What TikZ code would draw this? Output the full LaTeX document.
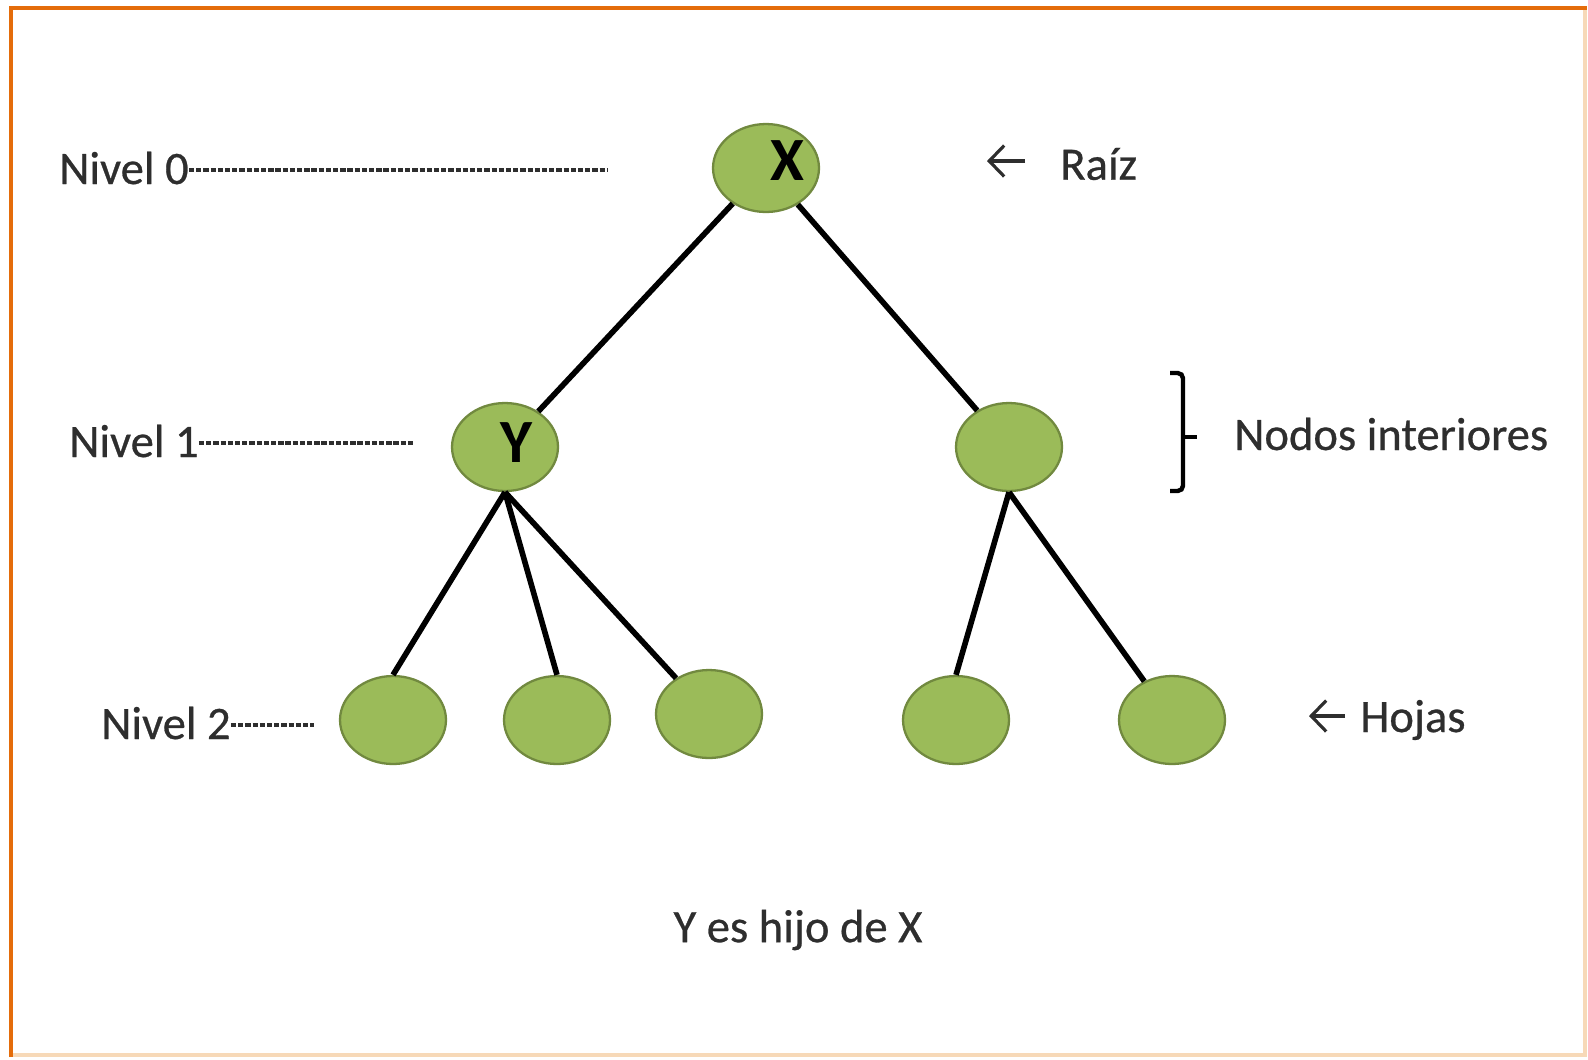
\documentclass[tikz,border=0pt]{standalone}
\usepackage{fontspec}
\setmainfont{Carlito}
\newfontfamily\labelfont{Carlito}[FakeBold=0.6]
\usetikzlibrary{shapes.geometric,arrows.meta}
\definecolor{frameorange}{HTML}{E46C0A}
\definecolor{framelight}{HTML}{F7D9B8}
\definecolor{leafgreen}{HTML}{9BBB59}
\definecolor{leafedge}{HTML}{71893F}
\definecolor{inkgray}{HTML}{2E2E2E}
\begin{document}
\begin{tikzpicture}[x=0.02cm,y=-0.02cm,
  treenode/.style={ellipse,draw=leafedge,fill=leafgreen,line width=1.3pt,
    minimum width=2.12cm,minimum height=1.76cm,inner sep=0pt},
  branch/.style={line width=3.2pt,black},
  caption/.style={font=\labelfont\fontsize{26.5}{30}\selectfont,text=inkgray,inner sep=0pt},
  letter/.style={font=\fontsize{35}{40}\selectfont\bfseries,text=black,inner sep=0pt},
  lvldash/.style={inkgray,line width=2pt,dash pattern=on 3pt off 1.1pt},
  pointer/.style={inkgray,line width=1.8pt,
    -{Straight Barb[length=0.3cm,width=0.62cm,line width=1.8pt]}},
  bracket/.style={black,line width=2.5pt,rounded corners=3pt}]

\useasboundingbox (0,0) rectangle (1588,1059);
\fill[white] (0,0) rectangle (1588,1059);

% frame: pale right and bottom edges, strong top and left edges
\draw[framelight,line width=2.2pt] (11,8) rectangle (1585,1055);
\draw[frameorange,line width=2.8pt] (11,1057) -- (11,8) -- (1587,8);

% tree nodes
\node[treenode] (x)  at (766,168) {};
\node[treenode] (y)  at (505,447) {};
\node[treenode] (r)  at (1009,447) {};
\node[treenode] (l1) at (393,720) {};
\node[treenode] (l2) at (557,720) {};
\node[treenode] (l3) at (709,714) {};
\node[treenode] (l4) at (956,720) {};
\node[treenode] (l5) at (1172,720) {};

\node[letter] (xl) at (787,161) {X};
\node[letter] (yl) at (516,443) {Y};

% branches
\draw[branch] (x) -- (y);
\draw[branch] (x) -- (r);
\draw[branch] (y.south) -- (l1.north);
\draw[branch] (y.south) -- (l2.north);
\draw[branch] (y.south) -- (l3);
\draw[branch] (r.south) -- (l4.north);
\draw[branch] (r.south) -- (l5);

% level labels with dashed leaders
\node[caption,anchor=west] (n0) at (59,168) {Nivel 0};
\node[caption,anchor=west] (n1) at (69,441) {Nivel 1};
\node[caption,anchor=west] (n2) at (101,723) {Nivel 2};
\coordinate (d0) at (608,170);
\coordinate (d1) at (415,443);
\coordinate (d2) at (314,725);
\draw[lvldash] (n0.east |- d0) -- (d0);
\draw[lvldash] (n1.east |- d1) -- (d1);
\draw[lvldash] (n2.east |- d2) -- (d2);

% root pointer
\coordinate (ra) at (1025,161);
\coordinate (rb) at (987,161);
\draw[pointer] (ra) -- (rb);
\node[caption,anchor=west] (raiz) at (1060,164) {Raíz};

% leaves pointer
\coordinate (ha) at (1345,716);
\coordinate (hb) at (1309,716);
\draw[pointer] (ha) -- (hb);
\node[caption,anchor=west] (hojas) at (1360,720) {Hojas};

% bracket for interior nodes
\coordinate (bt) at (1170,373);
\coordinate (bb) at (1170,491);
\coordinate (bm) at (1183,437);
\coordinate (bp) at (1197,437);
\draw[bracket] (bt) -- (1183,373) -- (1183,491) -- (bb);
\draw[black,line width=2.5pt] (bm) -- (bp);
\node[caption,anchor=west] (interior) at (1234,434) {Nodos interiores};

% caption
\node[caption] (cap) at (798,930) {Y es hijo de X};
\end{tikzpicture}
\end{document}
